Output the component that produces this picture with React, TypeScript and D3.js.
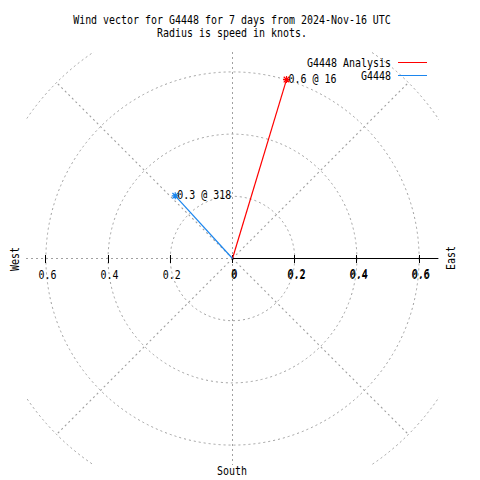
import React from "react";
import * as d3 from "d3";

// ---- data ----
const titleLines = [
  "Wind vector for G4448 for 7 days from 2024-Nov-16 UTC",
  "Radius is speed in knots.",
];
const seriesNames = ["G4448 Analysis", "G4448"];
const seriesColors = ["#ff0000", "#1c86ee"];
const speeds = [0.601, 0.273]; // knots
const directions = [16.8, 317.6]; // degrees clockwise from north
const pointLabels = ["0.6 @ 16", "0.3 @ 318"];
const ringValues = [0.2, 0.4, 0.6, 0.8];
const spokeAngles = [0, 45, 90, 135, 180, 225, 270, 315];
const tickValues = [-0.6, -0.4, -0.2, 0, 0.2, 0.4, 0.6];
const tickLabels = ["0.6", "0.4", "0.2", "0", "0.2", "0.4", "0.6"];
const compassLabels = ["West", "East", "South"];

const FONT = "'DejaVu Sans Mono', monospace";
const FS = 11.5;
const SX = 6 / (0.602 * FS);

function T({ x, y, anchor = "start", rotate = 0, fill = "#000", children }: any) {
  return (
    <text
      transform={`translate(${x},${y}) rotate(${rotate}) scale(${SX},1)`}
      textAnchor={anchor}
      fontFamily={FONT}
      fontSize={FS}
      fill={fill}
    >
      {children}
    </text>
  );
}

export default function App() {
  const R = 0.664;
  const x = d3.scaleLinear().domain([-R, R]).range([26, 439]);
  const y = d3.scaleLinear().domain([-R, R]).range([465, 52]);
  const cx = x(0);
  const cy = y(0);
  const px = (v: number) => x(v) - x(0);
  const grid = "#a0a0a0";
  const dash = "2,3";
  const star = (sx: number, sy: number) => {
    const s = 3.5;
    return `M${sx - s},${sy}L${sx + s},${sy}M${sx},${sy - s}L${sx},${sy + s}M${sx - s * 0.8},${sy - s * 0.8}L${sx + s * 0.8},${sy + s * 0.8}M${sx - s * 0.8},${sy + s * 0.8}L${sx + s * 0.8},${sy - s * 0.8}`;
  };

  return (
    <svg
      width={480}
      height={480}
      style={{ position: "absolute", left: 0, top: 0, background: "#fff" }}
    >
      <defs>
        <clipPath id="plotclip">
          <rect x={x(-R)} y={y(R)} width={x(R) - x(-R)} height={y(-R) - y(R)} />
        </clipPath>
      </defs>
      <rect width={480} height={480} fill="#fff" />

      {/* title */}
      {titleLines.map((t, i) => (
        <T key={i} x={232} y={24 + i * 13} anchor="middle">
          {t}
        </T>
      ))}

      {/* grid */}
      <g clipPath="url(#plotclip)" fill="none" stroke={grid} strokeDasharray={dash} strokeWidth={1}>
        {ringValues.map((v) => (
          <circle key={v} cx={cx} cy={cy} r={px(v)} />
        ))}
        {spokeAngles.map((a) => {
          const rad = (a * Math.PI) / 180;
          const rmax = ringValues[ringValues.length - 1];
          const diag = a % 90 !== 0;
          return (
            <line
              key={a}
              x1={cx}
              y1={cy}
              x2={x(rmax * Math.cos(rad))}
              y2={y(rmax * Math.sin(rad))}
              strokeWidth={diag ? 1.1 : 1}
              shapeRendering={diag ? "auto" : "crispEdges"}
            />
          );
        })}
      </g>

      {/* radial axis (east) */}
      <line x1={cx} y1={cy} x2={x(R) - 1} y2={cy} stroke="#000" shapeRendering="crispEdges" />
      {tickValues.map((v) => (
        <line
          key={v}
          x1={x(v)}
          x2={x(v)}
          y1={cy - 4}
          y2={cy + 4}
          stroke="#000"
          shapeRendering="crispEdges"
        />
      ))}
      {tickValues.map((v, i) => (
        <g key={"l" + v}>
          <T x={x(v) + 1.5} y={279} anchor="middle">
            {tickLabels[i]}
          </T>
          {v >= 0 && (
            <T x={x(v) + 2} y={278} anchor="middle">
              {tickLabels[i]}
            </T>
          )}
        </g>
      ))}

      {/* compass labels */}
      <T x={19} y={259} rotate={-90} anchor="middle">
        {compassLabels[0]}
      </T>
      <T x={455} y={258} rotate={-90} anchor="middle">
        {compassLabels[1]}
      </T>
      <T x={232} y={475} anchor="middle">
        {compassLabels[2]}
      </T>

      {/* vectors */}
      {speeds.map((s, i) => {
        const th = (directions[i] * Math.PI) / 180;
        const ex = x(s * Math.sin(th));
        const ey = y(s * Math.cos(th));
        const path = d3.line()([
          [cx, cy],
          [ex, ey],
        ]) as string;
        return (
          <g key={i}>
            <path d={path} stroke={seriesColors[i]} fill="none" strokeWidth={1.2} />
            <path d={star(ex, ey)} stroke={seriesColors[i]} fill="none" strokeWidth={1.2} />
            <T x={ex + 2} y={ey + 3}>
              {pointLabels[i]}
            </T>
          </g>
        );
      })}

      {/* legend */}
      {seriesNames.map((n, i) => (
        <g key={n}>
          <T x={391} y={67 + i * 12.5} anchor="end">
            {n}
          </T>
          <line
            x1={398}
            x2={427}
            y1={62.5 + i * 13}
            y2={62.5 + i * 13}
            stroke={seriesColors[i]}
            strokeWidth={1.2}
            shapeRendering="crispEdges"
          />
        </g>
      ))}
    </svg>
  );
}
